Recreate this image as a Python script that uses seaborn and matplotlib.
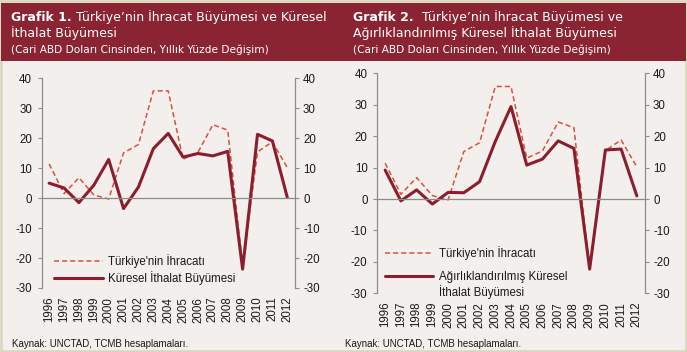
import matplotlib
matplotlib.use("Agg")
import pandas as pd
import matplotlib.pyplot as plt
import seaborn as sns
from matplotlib.patches import Rectangle

OUT_PATH = "out.png"

YEARS = list(range(1996, 2013))
TURKIYE_IHRACAT = [11.4, 1.5, 6.8, 1.1, -0.3, 15.1, 17.9, 35.8, 35.8, 13.0,
                   15.3, 24.5, 22.7, -22.6, 15.4, 18.8, 10.2]
KURESEL_ITHALAT = [5.0, 3.4, -1.5, 4.3, 12.9, -3.5, 3.7, 16.5, 21.6, 13.7,
                   14.9, 14.1, 15.6, -23.7, 21.3, 19.1, 0.3]
AGIRLIKLI_ITHALAT = [9.2, -0.6, 2.9, -1.6, 2.1, 2.0, 5.5, 18.3, 29.4, 10.8,
                     12.7, 18.5, 16.1, -22.3, 15.6, 15.9, 1.0]
Y_TICKS = [-30, -20, -10, 0, 10, 20, 30, 40]

BG = "#F3EFEC"
BAND = "#8A2332"
SOLID = "#8B1E2E"
DASHED = "#D9503A"
GREY = "#8C8C8C"
TXT = "#1A1A1A"

sns.set_theme(style="white")
plt.rcParams["font.family"] = ["Liberation Sans", "DejaVu Sans"]
plt.rcParams["axes.unicode_minus"] = False
TITLE_FONT = ["DejaVu Sans"]

df = pd.DataFrame({
    "year": YEARS,
    "turkiye": TURKIYE_IHRACAT,
    "kuresel": KURESEL_ITHALAT,
    "agirlikli": AGIRLIKLI_ITHALAT,
})

fig = plt.figure(figsize=(6.87, 3.52), dpi=100, facecolor=BG)

# --- başlık bandı ve çerçeve (piksel koordinatlı üst katman) ---
ax_t = fig.add_axes([0, 0, 1, 1], facecolor="none", zorder=5)
ax_t.set_axis_off()
ax_t.set_xlim(0, 687)
ax_t.set_ylim(352, 0)
ax_t.add_patch(Rectangle((0.8, 0.8), 685.4, 350.4, facecolor="none",
                         edgecolor="#DAD5BC", linewidth=1.8))
ax_t.add_patch(Rectangle((1, 3), 685, 58, facecolor=BAND, edgecolor="none"))


def title_block(x0, bold, rest1, line2, sub):
    t1 = ax_t.text(x0, 21, bold, color="white", fontsize=9,
                   fontweight="bold", family=TITLE_FONT, va="baseline")
    ax_t.annotate(rest1, xy=(1, 0), xycoords=t1, xytext=(3, 0),
                  textcoords="offset points", color="white", fontsize=9,
                  family=TITLE_FONT, va="bottom", annotation_clip=False)
    ax_t.text(x0, 37, line2, color="white", fontsize=9,
              family=TITLE_FONT, va="baseline")
    ax_t.text(x0, 53, sub, color="white", fontsize=7.6,
              family=TITLE_FONT, va="baseline")


def panel(rect, col, solid_label, leg_anchor, leg_spacing, label_pad,
          source_x):
    ax = fig.add_axes(rect, facecolor="none")
    sns.lineplot(data=df, x="year", y="turkiye", ax=ax, color=DASHED,
                 linewidth=1.1, linestyle=(0, (3.3, 2.0)),
                 label="Türkiye'nin İhracatı")
    sns.lineplot(data=df, x="year", y=col, ax=ax, color=SOLID,
                 linewidth=2.2, label=solid_label)
    ax.set_xlim(1995.5, 2012.5)
    ax.set_ylim(-30, 40)
    ax.set_xlabel("")
    ax.set_ylabel("")

    ax.spines["top"].set_visible(False)
    ax.spines["right"].set_visible(False)
    for s in ["left", "bottom"]:
        ax.spines[s].set_color(GREY)
        ax.spines[s].set_linewidth(0.9)
    ax.spines["bottom"].set_position(("data", 0))

    ax.set_xticks(YEARS)
    ax.set_xticklabels([str(y) for y in YEARS], rotation=90, fontsize=8.3,
                       color=TXT)
    ax.set_xticks([y + 0.5 for y in YEARS[:-1]], minor=True)
    ax.tick_params(axis="x", which="major", length=0, pad=label_pad)
    ax.tick_params(axis="x", which="minor", length=3, color=GREY,
                   direction="out", width=0.8)
    ax.set_yticks(Y_TICKS)
    ax.tick_params(axis="y", length=3, color=GREY, width=0.8, direction="out",
                   labelsize=8.3, labelcolor=TXT, pad=4, left=True)

    axr = ax.twinx()
    axr.set_ylim(-30, 40)
    axr.set_yticks(Y_TICKS)
    for s in ["top", "left", "bottom"]:
        axr.spines[s].set_visible(False)
    axr.spines["right"].set_color(GREY)
    axr.spines["right"].set_linewidth(0.9)
    axr.tick_params(axis="y", length=3, color=GREY, width=0.8,
                    direction="out", labelsize=8.3, labelcolor=TXT, pad=3,
                    right=True)

    leg = ax.legend(loc="upper left", bbox_to_anchor=leg_anchor,
                    frameon=False, fontsize=8.3, handlelength=4.2,
                    handletextpad=0.5, borderpad=0, borderaxespad=0,
                    labelspacing=leg_spacing)
    for t in leg.get_texts():
        t.set_color(TXT)

    fig.text(source_x / 687, 1 - 347 / 352,
             "Kaynak: UNCTAD, TCMB hesaplamaları.", fontsize=7, color=TXT,
             va="baseline")
    return ax, leg


title_block(11, "Grafik 1.", "Türkiye’nin İhracat Büyümesi ve Küresel",
            "İthalat Büyümesi",
            "(Cari ABD Doları Cinsinden, Yıllık Yüzde Değişim)")
title_block(353, "Grafik 2.", " Türkiye’nin İhracat Büyümesi ve",
            "Ağırlıklandırılmış Küresel İthalat Büyümesi",
            "(Cari ABD Doları Cinsinden, Yıllık Yüzde Değişim)")

ax1, leg1 = panel([41.7 / 687, 1 - 288 / 352, 253 / 687, 209.7 / 352],
                  "kuresel", "Küresel İthalat Büyümesi",
                  (0.049, 0.16), 0.2, 71, 12)
ax2, leg2 = panel([377.3 / 687, 1 - 293.3 / 352, 267.4 / 687, 220 / 352],
                  "agirlikli", "Ağırlıklandırılmış Küresel",
                  (0.029, 0.216), 0.95, 74, 345)

# ikinci panel: açıklamanın ikinci satırı
ax2.annotate("İthalat Büyümesi", xy=(0, 0), xycoords=leg2.get_texts()[1],
             xytext=(0, -1.5), textcoords="offset points", fontsize=8.3,
             color=TXT, va="top", ha="left", annotation_clip=False, zorder=6)

plt.savefig(OUT_PATH, dpi=100, facecolor=BG)
